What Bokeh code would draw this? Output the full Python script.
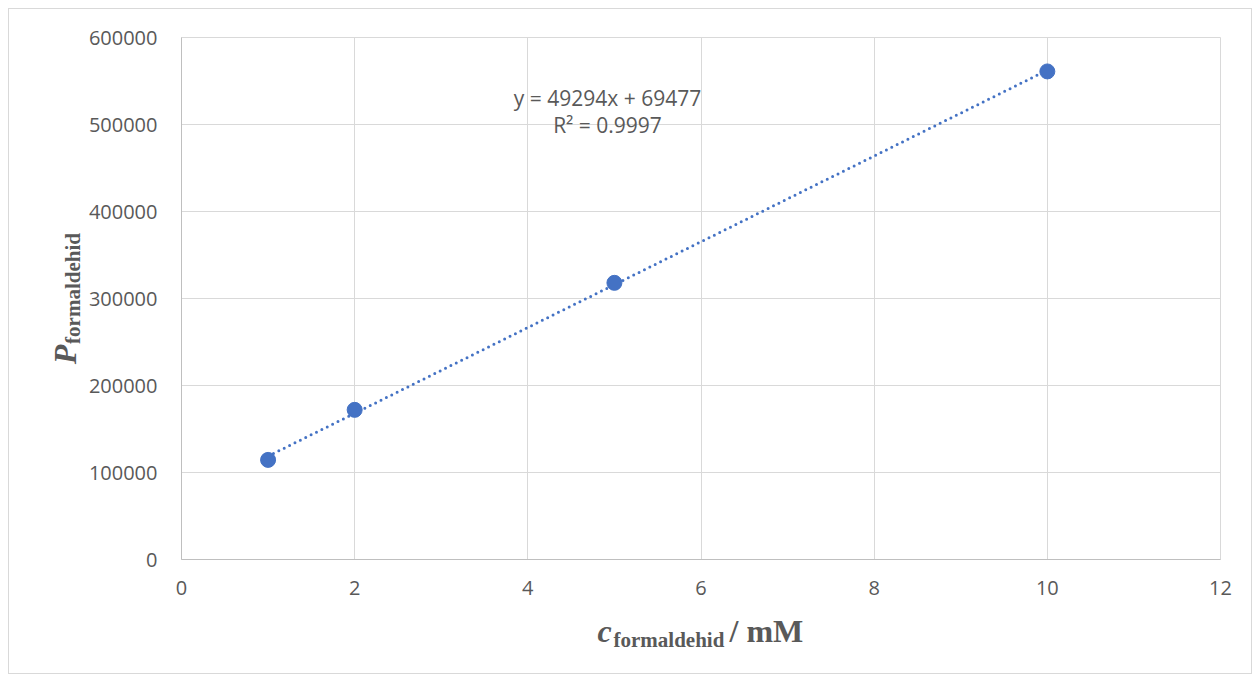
import numpy as np
from bokeh.plotting import figure
from bokeh.layouts import column, row
from bokeh.models import Label, SingleIntervalTicker, NumeralTickFormatter, Range1d
from bokeh.embed import file_html
from bokeh.resources import INLINE

# data
conc_mM = [1, 2, 5, 10]
peak = [114500, 172000, 318000, 561000]
slope = 49294
intercept = 69477
r_squared = 0.9997
x_ticks_interval = 2
y_ticks_interval = 100000

BLUE = "#4472C4"
GRAY_TXT = "#595959"

# overall box (page pixels): inner area 9..1251 x 9..673
OX, OY = 9, 9
W, H = 1242, 664
FRAME_L, FRAME_T, FRAME_R, FRAME_B = 181, 37, 1220, 559
YT_W = 72            # width of left title strip
TOP_H = 597          # height of top row (page 9..606)
BOT_H = H - TOP_H    # x-title strip

PW = W - YT_W
p = figure(width=PW, height=TOP_H, output_backend="svg", toolbar_location=None,
           x_range=Range1d(0, 12), y_range=Range1d(0, 600000),
           min_border_left=FRAME_L - (OX + YT_W),
           min_border_right=(OX + W) - FRAME_R,
           min_border_top=FRAME_T - OY,
           min_border_bottom=(OY + TOP_H) - FRAME_B)
p.background_fill_color = "white"
p.border_fill_color = "white"
p.outline_line_color = "#d9d9d9"
p.outline_line_width = 1

p.xaxis.ticker = SingleIntervalTicker(interval=x_ticks_interval)
p.yaxis.ticker = SingleIntervalTicker(interval=y_ticks_interval)
p.yaxis.formatter = NumeralTickFormatter(format="0")
for ax in (p.xaxis, p.yaxis):
    ax.axis_line_color = "#bfbfbf"
    ax.axis_line_width = 1
    ax.major_tick_line_color = None
    ax.minor_tick_line_color = None
    ax.major_label_text_font = "Open Sans"
    ax.major_label_text_font_size = "20px"
    ax.major_label_text_color = GRAY_TXT
p.yaxis.major_label_standoff = 18
p.xaxis.major_label_standoff = 15
p.grid.grid_line_color = "#d9d9d9"
p.grid.grid_line_width = 1

# trendline + points
xs = np.array([min(conc_mM), max(conc_mM)], dtype=float)
p.line(xs, slope * xs + intercept, line_color=BLUE, line_width=3,
       line_dash="0 6", line_cap="round")
p.scatter(conc_mM, peak, size=15, fill_color=BLUE, line_color=BLUE)


def add_text(fig, left, bottom, text, px, py, size, font, style="normal",
             align="left", angle=0.0):
    # screen-unit labels are relative to the frame's left and bottom edges
    fig.add_layout(Label(x=px - left, y=bottom - py, x_units="screen", y_units="screen",
                         text=text, angle=angle, text_align=align,
                         text_baseline="middle", text_font=font,
                         text_font_size=f"{size}px", text_font_style=style,
                         text_color=GRAY_TXT))


# trendline equation
add_text(p, FRAME_L, FRAME_B, f"y = {slope}x + {intercept}", 607, 97, 21,
         "Open Sans", align="center")
add_text(p, FRAME_L, FRAME_B, f"R² = {r_squared}", 607, 124, 21,
         "Open Sans", align="center")


def strip(width, height):
    f = figure(width=width, height=height, output_backend="svg", toolbar_location=None,
               x_axis_type=None, y_axis_type=None, x_range=Range1d(0, 1),
               y_range=Range1d(0, 1), min_border=0)
    f.outline_line_color = None
    f.grid.visible = False
    f.background_fill_color = "white"
    f.border_fill_color = "white"
    return f


MID = 0.3375  # baseline offset below the 'middle' line, in em (Liberation Serif)

# y-axis title strip; its frame is aligned with the main frame by the row layout
yt = strip(YT_W, TOP_H)
yl, yb = OX, FRAME_B
add_text(yt, yl, yb, "P", 75 - MID * 32, 354, 32, "Liberation Serif", "bold italic",
         align="center", angle=np.pi / 2)
add_text(yt, yl, yb, "formaldehid", 80 - MID * 21, 288, 21, "Liberation Serif", "bold",
         align="center", angle=np.pi / 2)

# x-axis title strip (page x 9..1251, y 606..673)
xt = strip(W, BOT_H)
xl, xb = OX, OY + H
add_text(xt, xl, xb, "c", 597, 641 - MID * 32, 32, "Liberation Serif", "bold italic")
add_text(xt, xl, xb, "formaldehid", 613, 647 - MID * 21, 21, "Liberation Serif", "bold")
add_text(xt, xl, xb, "/ mM", 729, 641 - MID * 32, 32, "Liberation Serif", "bold")

layout = column(row(yt, p, spacing=0), xt, spacing=0,
                styles={"border": "1px solid #d9d9d9", "margin-left": "8px",
                        "margin-top": "8px", "background-color": "white"})

open("out.html", "w").write(file_html(layout, INLINE))
